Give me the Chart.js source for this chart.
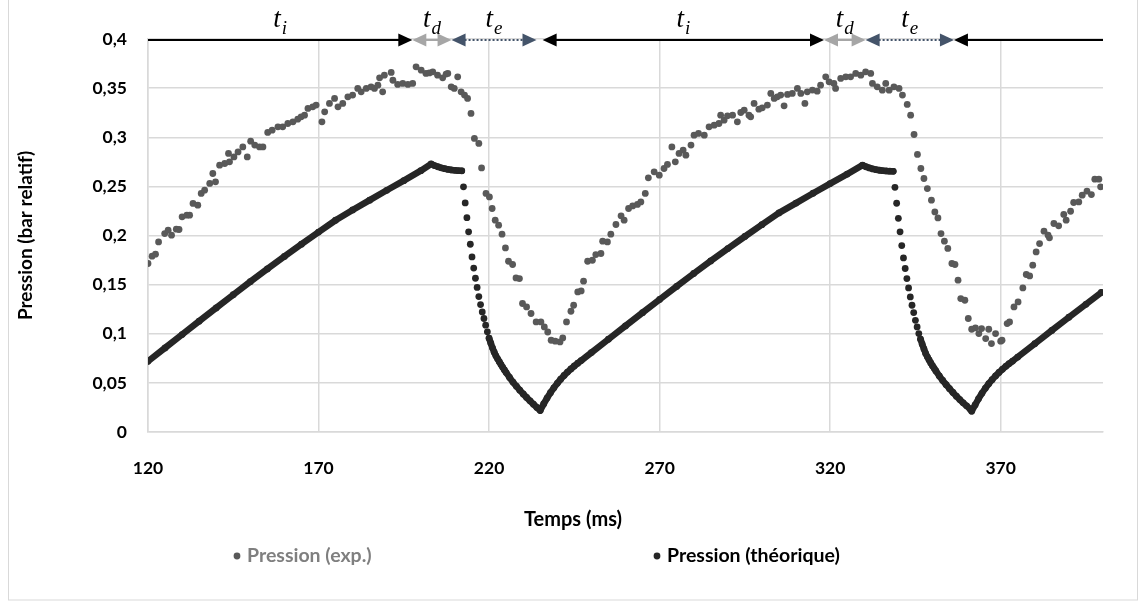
<!DOCTYPE html>
<html>
<head>
<meta charset="utf-8">
<title>Pression</title>
<script src="https://cdn.jsdelivr.net/npm/chart.js"></script>
<style>
    html, body { margin: 0; padding: 0; background: #ffffff; }
    #wrap { width: 1146px; height: 608px; }
</style>
</head>
<body>
<div id="wrap"><canvas id="pressureChart" width="1146" height="608"></canvas></div>
<script>
// measured pressure (bar relatif) vs time (ms)
const expTime = [
    120.0, 121.2, 122.2, 123.1, 124.9, 125.9, 126.9, 128.3, 129.1, 130.0, 131.4, 132.2, 133.2, 134.6, 135.6, 136.6,
    138.1, 139.0, 139.8, 141.0, 142.5, 143.6, 143.9, 145.2, 146.4, 147.8, 149.1, 150.1, 151.3, 152.7, 153.7, 155.1,
    156.4, 158.1, 159.5, 161.0, 162.5, 163.9, 164.9, 165.9, 166.9, 168.3, 169.3, 171.0, 171.8, 173.2, 174.7, 175.7,
    177.1, 178.6, 180.0, 181.5, 182.5, 184.0, 185.4, 186.4, 187.4, 187.9, 188.8, 189.3, 191.3, 191.8, 193.2, 194.7,
    196.2, 197.6, 198.6, 200.1, 201.5, 202.5, 203.5, 204.9, 206.4, 207.4, 207.9, 208.9, 209.8, 210.8, 211.8, 212.8,
    213.7, 214.7, 215.7, 217.0, 217.8, 219.1, 220.1, 220.9, 221.8, 222.8, 223.8, 224.8, 225.7, 226.9, 227.9, 228.9,
    229.8, 231.0, 232.3, 233.8, 235.2, 236.2, 237.2, 238.2, 239.4, 240.8, 241.6, 242.7, 244.0, 244.8, 246.0, 247.0,
    247.7, 248.9, 250.3, 251.3, 252.8, 253.3, 254.7, 255.7, 257.2, 258.7, 259.6, 260.9, 262.1, 263.5, 264.5, 265.8,
    266.7, 268.4, 269.9, 271.3, 272.3, 273.6, 274.6, 275.7, 276.9, 277.7, 279.2, 280.1, 281.4, 283.1, 284.5, 286.0,
    287.4, 287.9, 288.9, 289.9, 291.4, 292.8, 293.8, 294.8, 296.2, 296.7, 297.7, 299.1, 300.1, 301.6, 302.6, 303.6,
    304.5, 305.5, 306.5, 307.5, 308.9, 310.4, 311.4, 312.6, 313.3, 314.8, 316.2, 317.2, 318.7, 319.7, 321.1, 321.6,
    323.1, 324.6, 326.0, 327.5, 329.0, 330.4, 331.9, 332.4, 333.8, 335.3, 336.3, 337.3, 338.7, 340.2, 341.2, 342.6,
    343.6, 344.6, 345.6, 346.6, 347.5, 348.5, 349.7, 350.7, 351.6, 352.5, 353.5, 354.5, 355.7, 356.6, 357.5, 358.3,
    359.5, 360.5, 361.5, 362.6, 363.6, 364.4, 365.6, 366.5, 367.3, 368.5, 370.0, 370.4, 371.9, 372.6, 373.9, 375.1,
    376.5, 377.5, 378.5, 379.4, 380.4, 381.4, 382.7, 383.9, 384.3, 385.6, 387.0, 388.5, 389.2, 390.5, 391.4, 392.9,
    393.9, 395.3, 396.6, 397.6, 398.8, 399.3
];
const expPressure = [
    0.1715, 0.179, 0.181, 0.1935, 0.202, 0.2054, 0.2003, 0.2064, 0.2061, 0.219, 0.2207, 0.2207, 0.2326, 0.2309, 0.2428, 0.2461,
    0.253, 0.2631, 0.2546, 0.2716, 0.2733, 0.2835, 0.275, 0.28, 0.2851, 0.2902, 0.28, 0.296, 0.292, 0.2902, 0.2902, 0.3049,
    0.3072, 0.3106, 0.3106, 0.314, 0.3157, 0.3184, 0.3208, 0.3225, 0.3293, 0.331, 0.3327, 0.3157, 0.3259, 0.3344, 0.3395, 0.331,
    0.3344, 0.3411, 0.3429, 0.3497, 0.3462, 0.3497, 0.3513, 0.3497, 0.353, 0.3605, 0.3462, 0.3632, 0.366, 0.358, 0.3538, 0.3548,
    0.3538, 0.3548, 0.3717, 0.3683, 0.365, 0.3655, 0.3666, 0.3632, 0.3605, 0.3643, 0.365, 0.3513, 0.3497, 0.3615, 0.3462, 0.3429,
    0.3395, 0.3242, 0.2988, 0.2937, 0.2688, 0.2428, 0.2393, 0.2275, 0.2156, 0.2105, 0.2013, 0.1874, 0.1738, 0.1705, 0.1568, 0.1562,
    0.1308, 0.1273, 0.1206, 0.112, 0.112, 0.1069, 0.1018, 0.0934, 0.0924, 0.0917, 0.0957, 0.112, 0.1229, 0.129, 0.1426, 0.1436,
    0.1535, 0.1738, 0.1748, 0.1806, 0.1817, 0.1942, 0.1935, 0.2013, 0.2112, 0.22, 0.2156, 0.2275, 0.2301, 0.2316, 0.2342, 0.2428,
    0.2587, 0.2648, 0.2614, 0.2682, 0.2723, 0.2902, 0.275, 0.2835, 0.2869, 0.2818, 0.292, 0.3021, 0.3039, 0.3021, 0.3106, 0.3123,
    0.314, 0.3225, 0.3174, 0.3218, 0.3225, 0.3157, 0.3252, 0.3276, 0.3225, 0.3208, 0.3344, 0.3286, 0.33, 0.3327, 0.3446, 0.3395,
    0.3411, 0.3429, 0.332, 0.3436, 0.3446, 0.3497, 0.3446, 0.3344, 0.3462, 0.348, 0.3469, 0.353, 0.3615, 0.3564, 0.3548, 0.3497,
    0.3599, 0.3615, 0.3615, 0.365, 0.3632, 0.3666, 0.365, 0.3548, 0.3513, 0.3479, 0.3548, 0.3479, 0.3513, 0.3497, 0.3429, 0.3334,
    0.3225, 0.3028, 0.2825, 0.2682, 0.258, 0.2478, 0.236, 0.224, 0.2179, 0.202, 0.1942, 0.1868, 0.1715, 0.1705, 0.1545, 0.1358,
    0.1341, 0.1155, 0.1046, 0.1059, 0.1002, 0.1053, 0.0951, 0.1046, 0.09, 0.1002, 0.0924, 0.0934, 0.1104, 0.112, 0.1273, 0.1324,
    0.1466, 0.1603, 0.1589, 0.1698, 0.1833, 0.1918, 0.2044, 0.2003, 0.1976, 0.2122, 0.2098, 0.2214, 0.2156, 0.2247, 0.2336, 0.2342,
    0.241, 0.2451, 0.2417, 0.2573, 0.2573, 0.2495
];

// model output
const theoTime = [
    120, 125, 130, 135, 140, 145, 150, 155, 160, 165, 170, 175, 180, 185, 190, 195, 200, 203,
    204, 205, 206, 207, 208, 209, 210, 211, 212,
    212.5, 213, 213.5, 214, 214.5, 215, 215.5, 216, 216.5, 217, 217.5, 218, 218.5, 219, 219.5, 220,
    220.5, 221, 221.5, 222, 222.5, 223, 223.5, 224, 224.5, 225,
    226, 227, 228, 229, 230, 231, 232, 233, 234, 235,
    236, 237, 238, 239, 240, 241, 242, 243, 244, 245, 246, 247,
    250, 255, 260, 265, 270, 275, 280, 285, 290, 295, 300, 305, 310, 315, 320, 325, 329.5,
    330.5, 331.5, 332.5, 333.5, 334.5, 335.5, 336.5, 337.5, 338.5,
    339, 339.5, 340, 340.5, 341, 341.5, 342, 342.5, 343, 343.5, 344, 344.5, 345, 345.5, 346,
    346.5, 347, 347.5, 348, 348.5, 349, 349.5, 350, 350.5, 351,
    352, 353, 354, 355, 356, 357, 358, 359, 360, 361, 361.5,
    362.5, 363.5, 364.5, 365.5, 366.5, 367.5, 368.5, 369.5, 370.5, 371.5, 372.5, 373.5,
    375, 380, 385, 390, 395, 399.5
];
const theoPressure = [
    0.0720, 0.0856, 0.0992, 0.1128, 0.1263, 0.1397, 0.1530, 0.1660, 0.1787, 0.1912, 0.2035, 0.2155, 0.2260, 0.2360, 0.2460, 0.2558, 0.2660, 0.2728,
    0.2712, 0.2700, 0.2689, 0.2680, 0.2673, 0.2667, 0.2663, 0.2660, 0.2658,
    0.2495, 0.2332, 0.2181, 0.2037, 0.1911, 0.1782, 0.1668, 0.1565, 0.1471, 0.1378, 0.1297, 0.1222, 0.1155, 0.1087, 0.1020, 0.0955,
    0.0905, 0.0857, 0.0812, 0.0775, 0.0745, 0.0715, 0.0686, 0.0658, 0.0631, 0.0605,
    0.0555, 0.0508, 0.0466, 0.0426, 0.0388, 0.0352, 0.0317, 0.0283, 0.0250, 0.0218,
    0.0285, 0.0345, 0.0400, 0.0450, 0.0495, 0.0538, 0.0575, 0.0610, 0.0642, 0.0672, 0.0700, 0.0727,
    0.0808, 0.0944, 0.1080, 0.1215, 0.1349, 0.1482, 0.1613, 0.1741, 0.1867, 0.1990, 0.2110, 0.2230, 0.2330, 0.2430, 0.2528, 0.2625, 0.2716,
    0.2700, 0.2688, 0.2678, 0.2670, 0.2664, 0.2660, 0.2657, 0.2655, 0.2653,
    0.2490, 0.2328, 0.2175, 0.2037, 0.1897, 0.1772, 0.1664, 0.1562, 0.1466, 0.1375, 0.1290, 0.1216, 0.1137, 0.1069, 0.1002,
    0.0945, 0.0893, 0.0845, 0.0800, 0.0765, 0.0733, 0.0703, 0.0675, 0.0648, 0.0622,
    0.0570, 0.0525, 0.0482, 0.0441, 0.0402, 0.0365, 0.0330, 0.0297, 0.0266, 0.0235, 0.0212,
    0.0275, 0.0338, 0.0394, 0.0445, 0.0491, 0.0533, 0.0571, 0.0606, 0.0638, 0.0668, 0.0696, 0.0722,
    0.0763, 0.0898, 0.1034, 0.1168, 0.1300, 0.1420
];

const xTicks = [120, 170, 220, 270, 320, 370];
const yTicks = [0, 0.05, 0.1, 0.15, 0.2, 0.25, 0.3, 0.35, 0.4];

// phases drawn along the top (ms): inspiration, delay, expiration
const phaseStart = [120, 197.5, 209, 235.7, 318.2, 330.4, 356.3];
const phaseEnd = [197.5, 209, 233.9, 318.2, 330.4, 356.3, 400];
const phaseLabel = ['i', 'd', 'e', 'i', 'd', 'e', ''];
const phaseHeads = ['end', 'both', 'both', 'both', 'both', 'both', 'start'];

const FONT = 'Lato, "Open Sans", sans-serif';
const THEO_COLOR = '#262626';
const EXP_COLOR = '#595959';

function toPoints(xs, ys) {
    return xs.map((x, i) => ({ x: x, y: ys[i] }));
}

// the model curve is so dense it reads as a line; where it falls steeply the samples show as dots
function steepSegment(c) {
    const dx = Math.abs(c.p1.x - c.p0.x);
    const dy = Math.abs(c.p1.y - c.p0.y);
    return dy > 3.2 * dx;
}

function arrowHead(c, tipX, y, dir, color) {
    c.beginPath();
    c.moveTo(tipX, y);
    c.lineTo(tipX - dir * 14, y - 6.5);
    c.lineTo(tipX - dir * 14, y + 6.5);
    c.closePath();
    c.fillStyle = color;
    c.fill();
}

const decorations = {
    id: 'decorations',
    afterDraw(chart) {
        const c = chart.ctx;
        const xs = chart.scales.x;
        const ys = chart.scales.y;
        const rowY = Math.round(ys.getPixelForValue(0.4)) + 1;
        const styles = {
            i: { color: '#000000', dash: [] },
            d: { color: '#a6a6a6', dash: [] },
            e: { color: '#44546a', dash: [2, 2] },
            '': { color: '#000000', dash: [] }
        };

        c.save();
        // chart frame
        c.strokeStyle = '#d9d9d9';
        c.lineWidth = 1;
        c.strokeRect(8.5, -2, 1129, 602);

        phaseStart.forEach((start, i) => {
            const x0 = xs.getPixelForValue(start);
            const x1 = xs.getPixelForValue(phaseEnd[i]);
            const st = styles[phaseLabel[i]];
            const hasStart = phaseHeads[i] === 'start' || phaseHeads[i] === 'both';
            const hasEnd = phaseHeads[i] === 'end' || phaseHeads[i] === 'both';

            c.beginPath();
            c.setLineDash(st.dash);
            c.strokeStyle = st.color;
            c.lineWidth = 2;
            c.moveTo(x0 + (hasStart ? 13 : 0), rowY);
            c.lineTo(x1 - (hasEnd ? 13 : 0), rowY);
            c.stroke();
            c.setLineDash([]);
            if (hasStart) arrowHead(c, x0, rowY, -1, st.color);
            if (hasEnd) arrowHead(c, x1, rowY, 1, st.color);

            if (phaseLabel[i]) {
                const mainFont = 'italic 27px "Liberation Serif", serif';
                const subFont = 'italic 19px "Liberation Serif", serif';
                c.font = mainFont;
                const wMain = c.measureText('t').width;
                c.font = subFont;
                const wSub = c.measureText(phaseLabel[i]).width;
                const left = (x0 + x1) / 2 - (wMain + 1 + wSub) / 2;
                c.fillStyle = '#000000';
                c.textBaseline = 'alphabetic';
                c.textAlign = 'left';
                c.font = mainFont;
                c.fillText('t', left, 27);
                c.font = subFont;
                c.fillText(phaseLabel[i], left + wMain + 1, 34);
            }
        });

        // x axis title, centred on the whole chart like the original
        c.fillStyle = '#000000';
        c.font = 'bold 20px ' + FONT;
        c.textAlign = 'center';
        c.textBaseline = 'middle';
        c.fillText('Temps (ms)', chart.width / 2, 520);

        // legend
        const legendX = [237, 657];
        const legendText = ['#7f7f7f', '#000000'];
        c.font = 'bold 19.5px ' + FONT;
        c.textAlign = 'left';
        chart.data.datasets.forEach((ds, i) => {
            c.beginPath();
            c.arc(legendX[i], 556, 3.4, 0, Math.PI * 2);
            c.fillStyle = ds.backgroundColor;
            c.fill();
            c.fillStyle = legendText[i];
            c.fillText(ds.label, legendX[i] + 10, 556);
        });
        c.restore();
    }
};

const ctx = document.getElementById('pressureChart').getContext('2d');
const chart = new Chart(ctx, {
    type: 'scatter',
    data: {
        datasets: [
            {
                label: 'Pression (exp.)',
                data: toPoints(expTime, expPressure),
                backgroundColor: EXP_COLOR,
                pointRadius: 3.4,
                pointBorderWidth: 0,
                pointHoverRadius: 3.4
            },
            {
                label: 'Pression (théorique)',
                data: toPoints(theoTime, theoPressure),
                backgroundColor: THEO_COLOR,
                borderColor: THEO_COLOR,
                showLine: true,
                borderWidth: 6.5,
                borderJoinStyle: 'round',
                borderCapStyle: 'round',
                pointRadius: 3.4,
                pointBorderWidth: 0,
                pointHoverRadius: 3.4,
                segment: {
                    borderColor: c => steepSegment(c) ? 'rgba(0,0,0,0)' : THEO_COLOR
                }
            }
        ]
    },
    options: {
        responsive: false,
        animation: false,
        devicePixelRatio: 1,
        layout: { padding: { top: 39, right: 43, bottom: 0, left: 0 } },
        plugins: {
            legend: { display: false },
            tooltip: { enabled: false }
        },
        scales: {
            x: {
                type: 'linear',
                min: 120,
                max: 400,
                afterBuildTicks: s => { s.ticks = xTicks.map(v => ({ value: v })); },
                afterFit: s => { s.height = 176; },
                grid: { color: '#d9d9d9', lineWidth: 1.5, drawTicks: false },
                border: { color: '#d9d9d9', width: 1.5 },
                ticks: {
                    color: '#000000',
                    padding: 26,
                    maxRotation: 0,
                    font: { family: FONT, weight: 'bold', size: 17.5 }
                }
            },
            y: {
                min: 0,
                max: 0.4,
                afterBuildTicks: s => { s.ticks = yTicks.map(v => ({ value: v })); },
                afterFit: s => { s.width = 148; },
                grid: { color: '#d9d9d9', lineWidth: 1.5, drawTicks: false },
                border: { color: '#d9d9d9', width: 1.5 },
                ticks: {
                    color: '#000000',
                    padding: 21,
                    font: { family: FONT, weight: 'bold', size: 17.5 },
                    callback: v => String(Math.round(v * 100) / 100).replace('.', ',')
                },
                title: {
                    display: true,
                    text: 'Pression (bar relatif)',
                    color: '#000000',
                    font: { family: FONT, weight: 'bold', size: 19 },
                    padding: { top: 14, bottom: 0 }
                }
            }
        }
    },
    plugins: [decorations]
});
</script>
</body>
</html>
